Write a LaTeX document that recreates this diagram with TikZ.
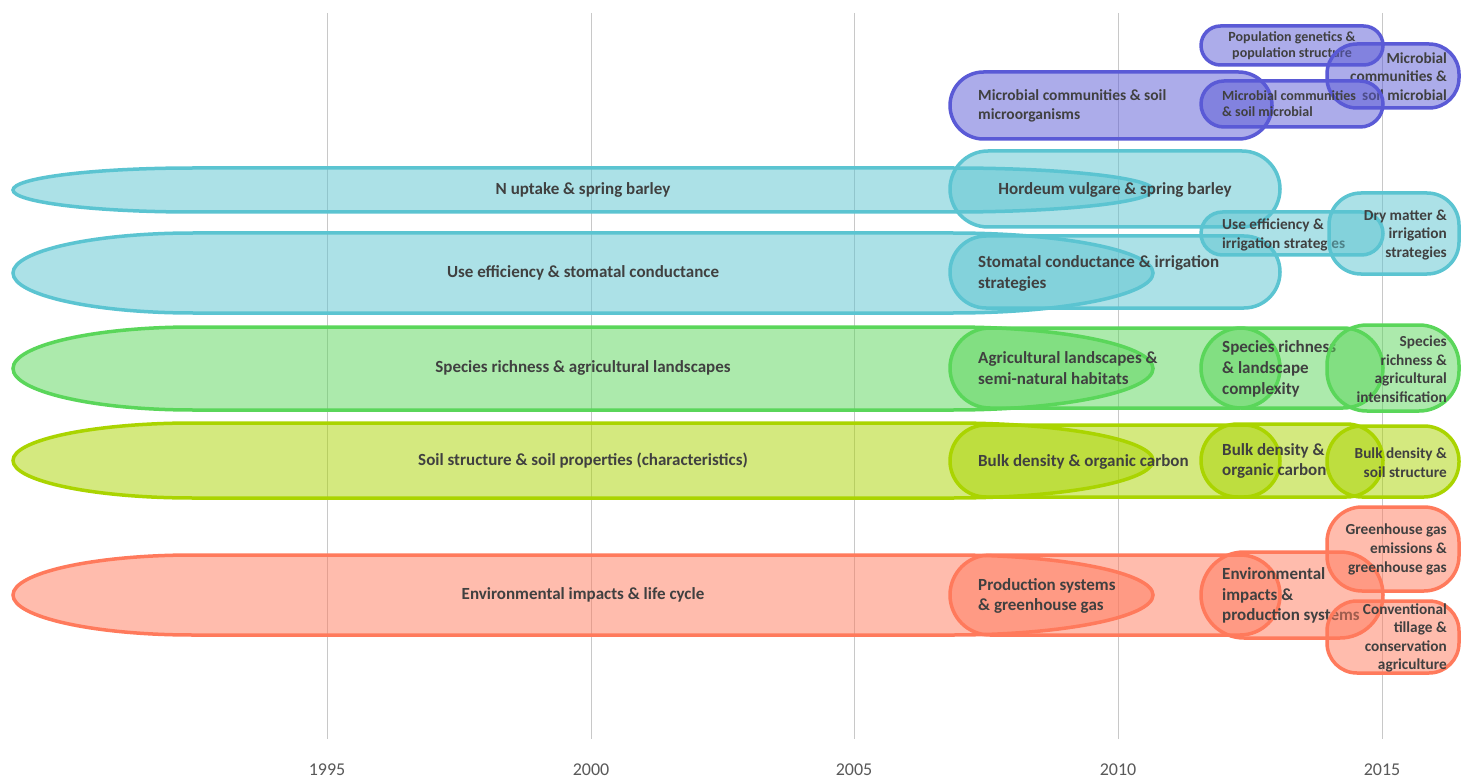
\documentclass[tikz,border=0pt]{standalone}
\usepackage{fontspec}
\setmainfont{Carlito}
\definecolor{cpur}{RGB}{90,90,214}
\definecolor{ctea}{RGB}{91,196,209}
\definecolor{cgrn}{RGB}{90,214,90}
\definecolor{cylw}{RGB}{170,212,0}
\definecolor{cred}{RGB}{255,122,92}
\definecolor{ctxt}{RGB}{64,64,64}
\definecolor{cyr}{RGB}{89,89,89}
\definecolor{cgrid}{RGB}{200,200,200}
\tikzset{
  shp/.style={line width=3.5pt, draw=#1, fill=#1, fill opacity=0.5},
  lb/.style={text=ctxt, inner sep=0pt, font=\bfseries\fontsize{17}{20.8}\selectfont},
  lbm/.style={text=ctxt, inner sep=0pt, font=\bfseries\fontsize{15.5}{19}\selectfont},
  lbs/.style={text=ctxt, inner sep=0pt, font=\bfseries\fontsize{15.3}{18.6}\selectfont},
  lbt/.style={text=ctxt, inner sep=0pt, font=\bfseries\fontsize{14}{16}\selectfont},
  yr/.style={text=cyr, inner sep=0pt, font=\fontsize{18}{20}\selectfont},
  gridln/.style={draw=cgrid, line width=1pt},
}
% long bar: x1, x2, ytop, half height, colour
\newcommand{\lbar}[5]{\draw[shp=#5] ({#1+180},#3) -- ({#2-200},#3)
  arc[start angle=90,end angle=-90,x radius=200pt,y radius=#4pt]
  -- ({#1+180},{#3+2*#4})
  arc[start angle=270,end angle=90,x radius=180pt,y radius=#4pt] -- cycle;}
% rounded box: x1, y1, x2, y2, radius, colour
\newcommand{\rbox}[6]{\draw[shp=#6, rounded corners=#5pt] (#1,#2) rectangle (#3,#4);}
\begin{document}
\begin{tikzpicture}[x=1pt,y=-1pt]
\fill[white] (0,0) rectangle (1462,778);
\useasboundingbox (0,0) rectangle (1462,778);
% grid
\foreach \gx/\yy in {327/1995,591/2000,854/2005,1118/2010,1382/2015}{
  \draw[gridln] (\gx,13) -- (\gx,739);
  \node[yr] (yr\yy) at (\gx,769.5) {\yy};
}
% ---------- purple row
\rbox{950}{72}{1272}{139}{33.5}{cpur}
\node[lbm, anchor=west, align=left] (p1) at (978,106) {Microbial communities \& soil\\microorganisms};
\rbox{1201}{26}{1383}{65}{19.5}{cpur}
\node[lbt, align=center] (p3) at (1292,46) {Population genetics \&\\population structure};
\rbox{1327}{44}{1459}{108}{30}{cpur}
\node[lbs, anchor=east, align=right] (p4) at (1447,76.5) {Microbial\\communities \&\\soil microbial};
\rbox{1201}{81}{1383}{127}{23}{cpur}
\node[lbt, anchor=west, align=left] (p2) at (1222,104) {Microbial communities\\\& soil microbial};
% ---------- teal rows
\lbar{13}{1153}{168}{22}{ctea}
\node[lb] (t1) at (583,190) {N uptake \& spring barley};
\lbar{13}{1153}{233}{40}{ctea}
\node[lb] (t5) at (583,273) {Use efficiency \& stomatal conductance};
\rbox{950}{151}{1280}{227}{38}{ctea}
\node[lb] (t2) at (1115,190) {Hordeum vulgare \& spring barley};
\rbox{950}{236}{1280}{308}{36}{ctea}
\node[lb, anchor=west, align=left] (t6) at (978,273.3) {Stomatal conductance \& irrigation\\strategies};
\rbox{1201}{212}{1383}{255}{21.5}{ctea}
\node[lbs, anchor=west, align=left] (t3) at (1222,235) {Use efficiency \&\\irrigation strategies};
\rbox{1329}{193}{1459}{274}{32}{ctea}
\node[lbs, anchor=east, align=right] (t4) at (1447,234.7) {Dry matter \&\\irrigation\\strategies};
% ---------- green row
\lbar{13}{1153}{327}{41.5}{cgrn}
\node[lb] (g1) at (583,368) {Species richness \& agricultural landscapes};
\rbox{950}{328}{1280}{408}{40}{cgrn}
\node[lb, anchor=west, align=left] (g2) at (978,368) {Agricultural landscapes \&\\semi-natural habitats};
\rbox{1201}{328}{1383}{408}{40}{cgrn}
\node[lb, anchor=west, align=left] (g3) at (1222,368.7) {Species richness\\\& landscape\\complexity};
\rbox{1327}{325}{1459}{411}{40}{cgrn}
\node[lbs, anchor=east, align=right] (g4) at (1447,369) {Species\\richness \&\\agricultural\\intensification};
% ---------- yellow row
\lbar{13}{1153}{423}{37.5}{cylw}
\node[lb] (y1) at (583,461) {Soil structure \& soil properties (characteristics)};
\rbox{950}{425}{1280}{497}{36}{cylw}
\node[lb, anchor=west] (y2) at (978,461.5) {Bulk density \& organic carbon};
\rbox{1201}{424}{1383}{497}{36.5}{cylw}
\node[lb, anchor=west, align=left] (y3) at (1222,461) {Bulk density \&\\organic carbon};
\rbox{1327}{426}{1459}{497}{35}{cylw}
\node[lbs, anchor=east, align=right] (y4) at (1447,462.5) {Bulk density \&\\soil structure};
% ---------- red row
\lbar{13}{1153}{555}{40}{cred}
\node[lb] (r1) at (583,595) {Environmental impacts \& life cycle};
\rbox{950}{555}{1280}{635}{40}{cred}
\node[lb, anchor=west, align=left] (r2) at (978,596) {Production systems\\\& greenhouse gas};
\rbox{1201}{552}{1383}{638}{43}{cred}
\node[lb, anchor=west, align=left] (r3) at (1222,595.5) {Environmental\\impacts \&\\production systems};
\rbox{1327}{507}{1459}{591}{35}{cred}
\node[lbs, anchor=east, align=right] (r4) at (1447,549.5) {Greenhouse gas\\emissions \&\\greenhouse gas};
\rbox{1327}{601}{1459}{673}{30}{cred}
\node[lbs, anchor=east, align=right] (r5) at (1447,638) {Conventional\\tillage \&\\conservation\\agriculture};
\end{tikzpicture}
\end{document}
